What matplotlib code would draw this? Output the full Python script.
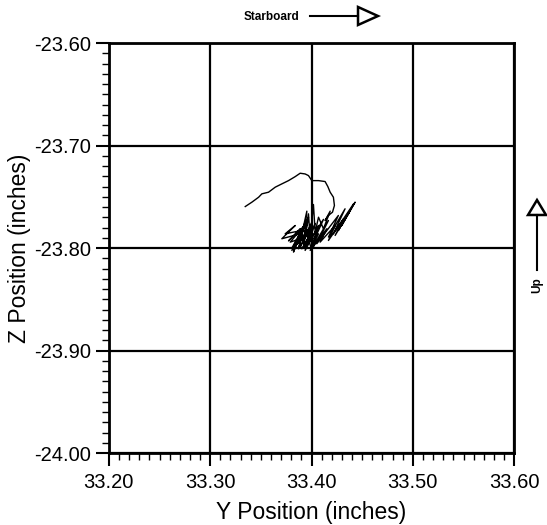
import numpy as np
import matplotlib
matplotlib.use("Agg")
import matplotlib.pyplot as plt
from matplotlib.lines import Line2D
from matplotlib.patches import Polygon
from matplotlib.ticker import MultipleLocator, FormatStrFormatter

# ---------------------------------------------------------
# data: Y / Z position trace (inches)
# ---------------------------------------------------------
y_pos = [
    33.3346, 33.3412, 33.3478, 33.3510, 33.3576, 33.3642, 33.3707, 33.3773,
    33.3839, 33.3888, 33.3937, 33.3970, 33.4003, 33.4069, 33.4134, 33.4161,
    33.4184, 33.4216, 33.4226, 33.4207, 33.4167,
    33.4134, 33.4184, 33.4118, 33.4069, 33.4036, 33.4019, 33.3987, 33.3970,
    33.3921, 33.3954, 33.3872, 33.3937, 33.3822, 33.3904, 33.3740, 33.3839,
    33.3707, 33.3888, 33.3806, 33.3987, 33.3888, 33.4003, 33.3937, 33.4069,
    33.4003, 33.4167, 33.4052, 33.4265, 33.4167, 33.4331, 33.4216, 33.4414,
    33.4265, 33.4430, 33.4298, 33.4381, 33.4233, 33.4315, 33.4167, 33.4233,
    33.4085, 33.4151, 33.3987, 33.4069, 33.3904, 33.4003, 33.3839, 33.3937,
    33.3790, 33.3872, 33.3970, 33.4019, 33.4052, 33.4003,
    33.3954, 33.3806, 33.3921, 33.3773, 33.3888, 33.3856, 33.3970, 33.3921,
    33.4036, 33.3970, 33.4118, 33.4036,
]
z_pos = [
    -23.7595, -23.7552, -23.7504, -23.7471, -23.7455, -23.7406, -23.7374, -23.7342,
    -23.7303, -23.7270, -23.7277, -23.7293, -23.7342, -23.7342, -23.7351, -23.7400,
    -23.7455, -23.7504, -23.7585, -23.7650, -23.7682,
    -23.7731, -23.7640, -23.7812, -23.7699, -23.7845, -23.7575, -23.7909, -23.7666,
    -23.7958, -23.7640, -23.8007, -23.7747, -23.8039, -23.7828, -23.7861, -23.7780,
    -23.7909, -23.7861, -23.8023, -23.7796, -23.7991, -23.7747, -23.8023, -23.7780,
    -23.8007, -23.7731, -23.7958, -23.7682, -23.7893, -23.7617, -23.7861, -23.7569,
    -23.7828, -23.7552, -23.7780, -23.7634, -23.7877, -23.7715, -23.7926, -23.7780,
    -23.7942, -23.7812, -23.8023, -23.7861, -23.8007, -23.7845, -23.7974, -23.7893,
    -23.7942, -23.7845, -23.7828, -23.7991, -23.7812, -23.8023,
    -23.7860, -23.8000, -23.7790, -23.7930, -23.7810, -23.7960, -23.7700, -23.7990,
    -23.7760, -23.7950, -23.7720, -23.7900,
]

x_limits = (33.20, 33.60)
z_limits = (-24.00, -23.60)

# ---------------------------------------------------------
# figure
# ---------------------------------------------------------
plt.rcParams["font.family"] = ["Liberation Sans", "DejaVu Sans"]
plt.rcParams["axes.unicode_minus"] = False

fig = plt.figure(figsize=(5.47, 5.25), dpi=100)
ax = fig.add_axes([0.199, 0.137, 0.741, 0.781])

ax.plot(y_pos, z_pos, color="black", linewidth=1.0)

ax.set_xlim(*x_limits)
ax.set_ylim(*z_limits)

ax.xaxis.set_major_locator(MultipleLocator(0.1))
ax.xaxis.set_minor_locator(MultipleLocator(0.01))
ax.yaxis.set_major_locator(MultipleLocator(0.1))
ax.yaxis.set_minor_locator(MultipleLocator(0.01))
ax.xaxis.set_major_formatter(FormatStrFormatter("%.2f"))
ax.yaxis.set_major_formatter(FormatStrFormatter("%.2f"))

ax.tick_params(which="major", direction="out", length=9.5, width=1.5,
               labelsize=14.5, pad=3.5)
ax.tick_params(which="minor", direction="out", length=5, width=1.0)
ax.tick_params(axis="x", which="major", pad=4.5)

ax.grid(which="major", color="black", linewidth=1.6)

for side in ax.spines.values():
    side.set_linewidth(2.0)

ax.set_xlabel("Y Position (inches)", fontsize=16.5, labelpad=7)
ax.set_ylabel("Z Position (inches)", fontsize=16.5, labelpad=2)

# ---------------------------------------------------------
# direction arrows
# ---------------------------------------------------------
fig.text(0.497, 0.967, "Starboard", fontsize=8.5, fontweight="bold",
         ha="center", va="center")
fig.add_artist(Line2D([0.5667, 0.6545], [0.9695, 0.9695],
                      transform=fig.transFigure, color="black", linewidth=1.5))
fig.add_artist(Polygon([[0.6545, 0.9867], [0.6545, 0.9524], [0.6910, 0.9695]],
                       closed=True, transform=fig.transFigure,
                       facecolor="white", edgecolor="black", linewidth=1.8))

fig.text(0.9817, 0.457, "Up", fontsize=8.5, fontweight="bold",
         rotation=90, ha="center", va="center")
fig.add_artist(Line2D([0.9817, 0.9817], [0.4857, 0.5905],
                      transform=fig.transFigure, color="black", linewidth=1.5))
fig.add_artist(Polygon([[0.9653, 0.5905], [0.9982, 0.5905], [0.9817, 0.6190]],
                       closed=True, transform=fig.transFigure,
                       facecolor="white", edgecolor="black", linewidth=1.8))

fig.savefig("out.png", dpi=100)
